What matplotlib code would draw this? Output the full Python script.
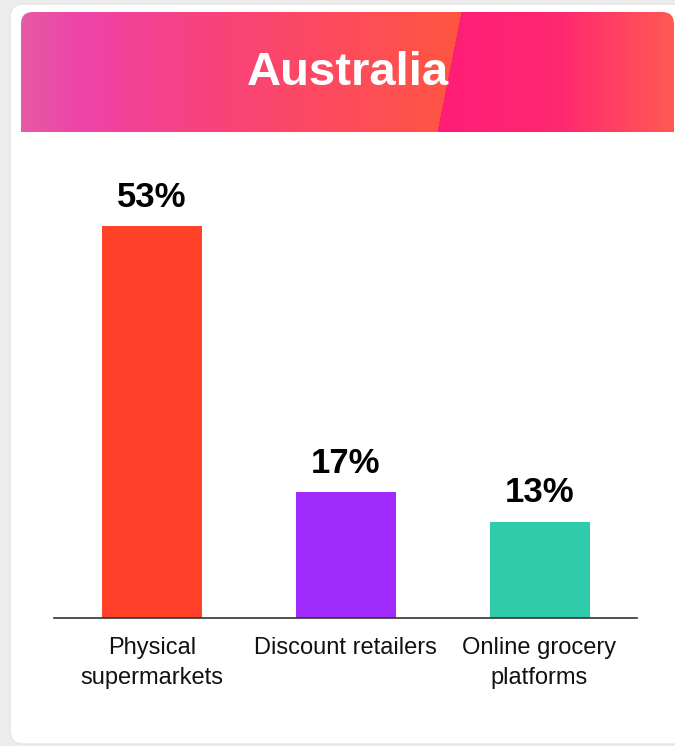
import numpy as np
import matplotlib
matplotlib.use("Agg")
import matplotlib.pyplot as plt
from matplotlib.patches import FancyBboxPatch, Rectangle
from matplotlib.colors import to_rgb

plt.rcParams['font.family'] = ['Liberation Sans', 'DejaVu Sans']

title = "Australia"
categories = ["Physical\nsupermarkets", "Discount retailers", "Online grocery\nplatforms"]
values = [53, 17, 13]
bar_colors = ["#ff4229", "#a12bfd", "#2fcbaa"]

W, H = 675, 746
fig = plt.figure(figsize=(W / 100, H / 100), dpi=100)

# background card + header, in pixel coords
bg = fig.add_axes([0, 0, 1, 1], zorder=0)
bg.set_xlim(0, W)
bg.set_ylim(H, 0)
bg.axis("off")
bg.add_patch(Rectangle((0, 0), W, H, color="#ececec"))
bg.add_patch(FancyBboxPatch((10, 4), W + 30, 740, boxstyle="round,pad=0,rounding_size=14",
                            fc="white", ec="#e2e2e2", lw=0.8))

# header gradient
hx0, hx1, hy0, hy1 = 21, 674, 12, 132
xs = np.arange(hx0, hx1)
ys = np.arange(hy0, hy1)

def ramp(stops, x):
    pos = [s[0] for s in stops]
    cols = np.array([to_rgb(s[1]) for s in stops])
    return np.stack([np.interp(x, pos, cols[:, k]) for k in range(3)], axis=-1)

left_stops = [(21, "#e65aa4"), (85, "#ee42a8"), (200, "#f8427f"), (330, "#fd4a5e"), (460, "#ff5641")]
right_stops = [(430, "#ff1c78"), (560, "#ff2870"), (674, "#ff5a52")]
lc = ramp(left_stops, xs)
rc = ramp(right_stops, xs)
img = np.zeros((len(ys), len(xs), 3))
for i, y in enumerate(ys):
    xb = 461 - (y - hy0) * 24 / 120.0
    img[i] = np.where((xs >= xb)[:, None], rc, lc)
im = bg.imshow(img, extent=[hx0, hx1, hy1, hy0], aspect="auto", interpolation="bilinear", zorder=2)
# rounded top corners only: clip box runs past the image bottom
clip = FancyBboxPatch((hx0, hy0), hx1 - hx0, hy1 - hy0 + 30, boxstyle="round,pad=0,rounding_size=12",
                      fc="none", ec="none", transform=bg.transData)
bg.add_patch(clip)
im.set_clip_path(clip)
bg.text((hx0 + hx1) / 2, 73, title, color="white", fontsize=34, fontweight="bold",
        ha="center", va="center", zorder=3)

# chart axes: baseline at y=618 px, x from 54 to 637 px
ax_left, ax_right = 54 / W, 637 / W
ax_bottom = (H - 618) / H
ax_top = (H - 160) / H
ax = fig.add_axes([ax_left, ax_bottom, ax_right - ax_left, ax_top - ax_bottom], zorder=1)
ax.patch.set_alpha(0)
x = np.arange(len(categories))
ax.bar(x, values, width=0.516, color=bar_colors)
ax.set_xlim(-0.506, 2.503)
ax.set_ylim(0, (618 - 160) / 7.39)
for xi, v in zip(x, values):
    ax.annotate(f"{v}%", (xi, v), xytext=(0, 9), textcoords="offset points",
                ha="center", va="bottom", fontsize=25, fontweight="bold", color="black")
ax.set_xticks(x)
ax.set_xticklabels(categories, fontsize=17, color="#111111", linespacing=1.45)
ax.tick_params(axis="x", length=0, pad=14)
ax.set_yticks([])
for s in ["top", "right", "left"]:
    ax.spines[s].set_visible(False)
ax.spines["bottom"].set_color("#333333")
ax.spines["bottom"].set_linewidth(1.2)

fig.savefig("out.png", dpi=100)
